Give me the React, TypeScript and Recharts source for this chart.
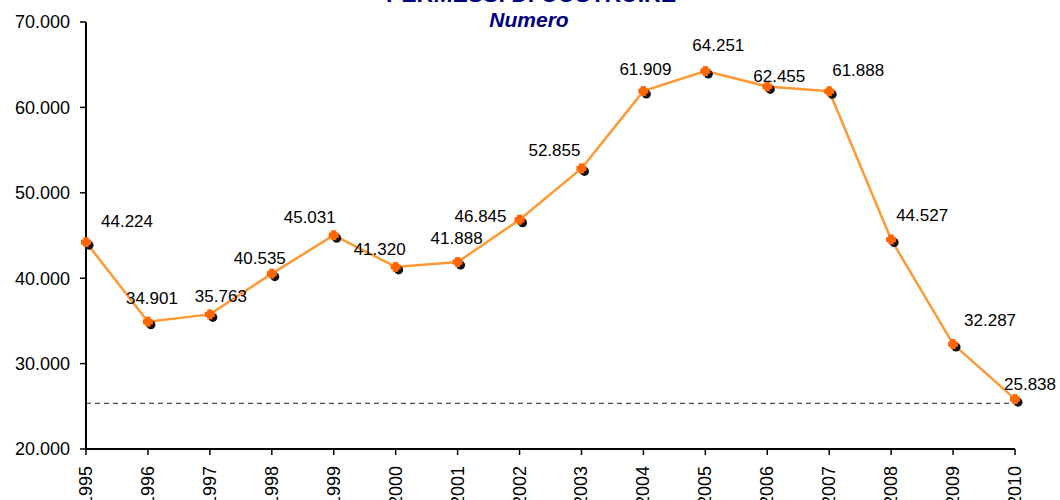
import { LineChart, Line, XAxis, YAxis, ReferenceLine, LabelList } from 'recharts';

const years = ['1995', '1996', '1997', '1998', '1999', '2000', '2001', '2002', '2003', '2004', '2005', '2006', '2007', '2008', '2009', '2010'];
const permessi = [44224, 34901, 35763, 40535, 45031, 41320, 41888, 46845, 52855, 61909, 64251, 62455, 61888, 44527, 32287, 25838];
const yTicks = [20000, 30000, 40000, 50000, 60000, 70000];
const lineaRiferimento = 25350;

// hand-tuned label offsets (from point centre to label centre), like the Excel original
const labelNudge: [number, number][] = [
  [41, -21], [4, -24], [11, -18], [-12, -16], [-24, -18], [-16, -18], [-1, -24], [-39, -4],
  [-27, -18], [2, -22], [13, -26], [12, -10], [29, -21], [31, -25], [37, -24], [15, -15],
];

const data = years.map((year, i) => ({ year, value: permessi[i] }));

const fmt = (v: number) => (v / 1000).toFixed(3);
const FONT = '"Liberation Sans", Arial, sans-serif';

const Marker = (props: any) => {
  const { cx, cy } = props;
  if (cx == null || cy == null) return null;
  return (
    <g>
      <circle cx={cx + 3} cy={cy + 3} r={4.5} fill="#111" />
      <rect x={cx - 5} y={cy - 2.5} width={10} height={5} fill="#FF6600" />
      <rect x={cx - 2.5} y={cy - 5} width={5} height={10} fill="#FF6600" />
      <circle cx={cx} cy={cy} r={4} fill="#FF6600" />
    </g>
  );
};

const XTick = ({ x, y, payload }: any) => (
  <text
    x={x}
    y={y + 9}
    transform={`rotate(-90, ${x}, ${y + 9})`}
    textAnchor="end"
    dy={6}
    fontSize={18}
    fontFamily={FONT}
    fill="#000"
  >
    {payload.value}
  </text>
);

const ValueLabel = (props: any) => {
  const { x, y, value, index } = props;
  const [dx, dy] = labelNudge[index] ?? [0, -20];
  return (
    <text x={x + dx} y={y + dy} dy={6} textAnchor="middle" fontSize={17} fontFamily={FONT} fill="#000">
      {fmt(value)}
    </text>
  );
};

export default function App() {
  return (
    <div style={{ position: 'absolute', left: 0, top: 0, width: 1060, height: 500, background: '#fff', overflow: 'hidden' }}>
      <div style={{ position: 'absolute', left: 0, width: 1062, top: -19, textAlign: 'center', fontFamily: FONT, color: '#000080', fontWeight: 700, fontSize: 23, lineHeight: '26px' }}>
        PERMESSI DI COSTRUIRE
      </div>
      <div style={{ position: 'absolute', left: 0, width: 1058, top: 8, textAlign: 'center', fontFamily: FONT, color: '#000080', fontWeight: 700, fontStyle: 'italic', fontSize: 21, lineHeight: '24px' }}>
        Numero
      </div>
      <LineChart width={1060} height={500} data={data} margin={{ top: 22, right: 45, bottom: 0, left: 0 }}>
        <XAxis
          dataKey="year"
          height={51}
          interval={0}
          tick={<XTick />}
          tickSize={6}
          axisLine={{ stroke: '#000', strokeWidth: 2 }}
          tickLine={{ stroke: '#000', strokeWidth: 1.5 }}
        />
        <YAxis
          width={86}
          domain={[20000, 70000]}
          ticks={yTicks}
          tickFormatter={fmt}
          interval={0}
          tickSize={6}
          tickMargin={10}
          tick={{ fontSize: 18, fontFamily: FONT, fill: '#000' }}
          axisLine={{ stroke: '#000', strokeWidth: 2 }}
          tickLine={{ stroke: '#000', strokeWidth: 1.5 }}
        />
        <ReferenceLine y={lineaRiferimento} stroke="#222" strokeDasharray="5 4" strokeWidth={1} />
        <Line
          type="linear"
          dataKey="value"
          stroke="#FF9933"
          strokeWidth={2.5}
          dot={<Marker />}
          activeDot={false}
          isAnimationActive={false}
        >
          <LabelList dataKey="value" content={<ValueLabel />} />
        </Line>
      </LineChart>
    </div>
  );
}
